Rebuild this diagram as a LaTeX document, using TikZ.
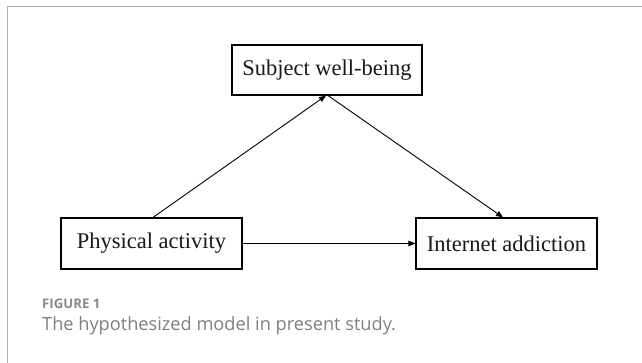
\documentclass[tikz,border=0pt]{standalone}
\usepackage{fontspec}
\usetikzlibrary{arrows.meta}
\newfontfamily\boxfont{Liberation Serif}
\newfontfamily\capfont{Open Sans}
\definecolor{framegray}{HTML}{B3B3B3}
\definecolor{capgray}{HTML}{808080}
\definecolor{figgray}{HTML}{8A8A8A}
\tikzset{
  varbox/.style={draw=black, line width=1.1pt, minimum height=51pt, inner sep=0pt,
    font=\boxfont\fontsize{22.5}{26}\selectfont, text=black!90},
  pathline/.style={line width=0.9pt, -{Triangle[length=7pt,width=5.5pt]}},
}
\begin{document}
\begin{tikzpicture}[x=1pt,y=-1pt]
\useasboundingbox (0,0) rectangle (642,363);
\fill[white] (0,0) rectangle (642,363);
% frame
\draw[framegray, line width=1.4pt] (7.3,363) -- (7.3,6.8) -- (642,6.8);
% boxes
\node[varbox, minimum width=190pt, minimum height=50pt] (swb) at (327,70) {Subject well-being};
\node[varbox, minimum width=181pt] (pa) at (151.5,243.5) {Physical activity};
\node[varbox, minimum width=181pt] (ia) at (506.5,243.5) {Internet addiction};
% connectors
\draw[pathline] ([xshift=1.5pt]pa.north) -- ([xshift=-1pt]swb.south);
\draw[pathline] ([xshift=1pt]swb.south) -- ([xshift=-3.5pt]ia.north);
\draw[pathline] (pa.east) -- (ia.west);
% caption
\node[anchor=base west, inner sep=0pt, font=\capfont\bfseries\fontsize{13.2}{15}\selectfont, text=figgray] (figlabel) at (42,308) {FIGURE 1};
\node[anchor=base west, inner sep=0pt, font=\capfont\fontsize{18.2}{21}\selectfont, text=capgray] (figcap) at (42,330.5) {The hypothesized model in present study.};
\end{tikzpicture}
\end{document}
